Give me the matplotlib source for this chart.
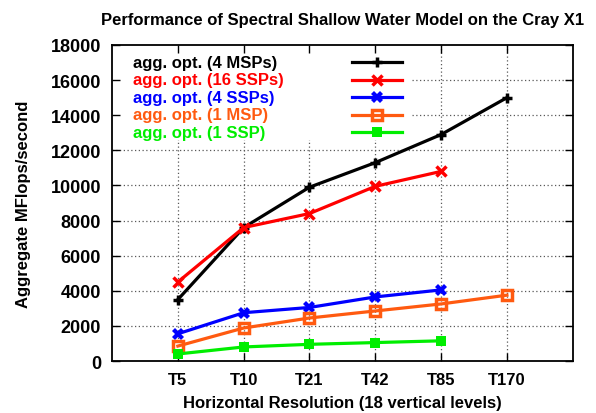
import matplotlib
matplotlib.use('Agg')
import matplotlib.pyplot as plt
from matplotlib.lines import Line2D
from matplotlib.patches import Rectangle

plt.rcParams['font.family'] = ['Liberation Sans', 'DejaVu Sans']
plt.rcParams['font.weight'] = 'bold'

resolutions = ['T5', 'T10', 'T21', 'T42', 'T85', 'T170']
msp4 = [3500, 7600, 9900, 11300, 12900, 15000]
ssp16 = [4500, 7600, 8400, 9950, 10800]
ssp4 = [1550, 2750, 3050, 3650, 4050]
msp1 = [850, 1880, 2450, 2850, 3250, 3750]
ssp1 = [400, 800, 950, 1050, 1150]
yticks = list(range(0, 18001, 2000))

series = [
    ('agg. opt. (4 MSPs)', msp4, '#000000', dict(marker='+', ms=7, mew=2.5)),
    ('agg. opt. (16 SSPs)', ssp16, '#ff0000', dict(marker='x', ms=7, mew=2.5)),
    ('agg. opt. (4 SSPs)', ssp4, '#0000ff', dict(marker='X', ms=9, mew=0)),
    ('agg. opt. (1 MSP)', msp1, '#ff5a10', dict(marker='s', ms=7.5, mfc='none', mew=2.5)),
    ('agg. opt. (1 SSP)', ssp1, '#00ee00', dict(marker='s', ms=6.5, mew=0)),
]
FS = 12

fig = plt.figure(figsize=(5.96, 4.14), dpi=100)
ax = fig.add_axes([0.188, 0.1256, 0.773, 0.7633])

xpos = list(range(len(resolutions)))
for name, vals, color, mk in series:
    ax.plot(xpos[:len(vals)], vals, color=color, lw=2.3, zorder=3, **mk)

ax.set_xlim(-1, 6)
ax.set_ylim(0, 18000)
ax.set_xticks(xpos)
ax.set_xticklabels(resolutions)
ax.set_yticks(yticks)

# dotted grid, drawn by hand so the key box can sit on top of it
for y in yticks[1:-1]:
    ax.axhline(y, color='0.35', lw=0.9, ls=(0, (1, 2)), zorder=0.8)
for x in xpos:
    ax.axvline(x, color='0.35', lw=0.9, ls=(0, (1, 2)), zorder=0.8)

ax.add_patch(Rectangle((0, 0.70), 0.65, 0.30, transform=ax.transAxes,
                       facecolor='white', edgecolor='none', zorder=0.9))

# key: text on the left, sample on the right
for i, (name, vals, color, mk) in enumerate(series):
    yy = 0.946 - i * 0.0555
    ax.text(0.045, yy, name, color=color, fontsize=FS, fontweight='bold',
            va='center', ha='left', transform=ax.transAxes, zorder=4)
    ax.add_line(Line2D([0.520, 0.5745, 0.629], [yy, yy, yy], color=color,
                       lw=2.3, transform=ax.transAxes, zorder=4,
                       markevery=[1], **mk))

ax.set_axisbelow(False)
ax.tick_params(direction='in', length=6, width=1, top=True, right=True,
               labelsize=FS, pad=8)
ax.tick_params(axis='y', labelsize=13)
for lab in ax.get_xticklabels() + ax.get_yticklabels():
    lab.set_fontweight('bold')
for sp in ax.spines.values():
    sp.set_linewidth(1.3)
    sp.set_zorder(5)

ax.set_title('Performance of Spectral Shallow Water Model on the Cray X1',
             fontsize=FS, fontweight='bold', pad=15)
ax.set_xlabel('Horizontal Resolution (18 vertical levels)', fontsize=FS,
              fontweight='bold', labelpad=6)
ax.set_ylabel('Aggregate MFlops/second', fontsize=FS, fontweight='bold',
              labelpad=14)

fig.savefig('out.png', dpi=100)
